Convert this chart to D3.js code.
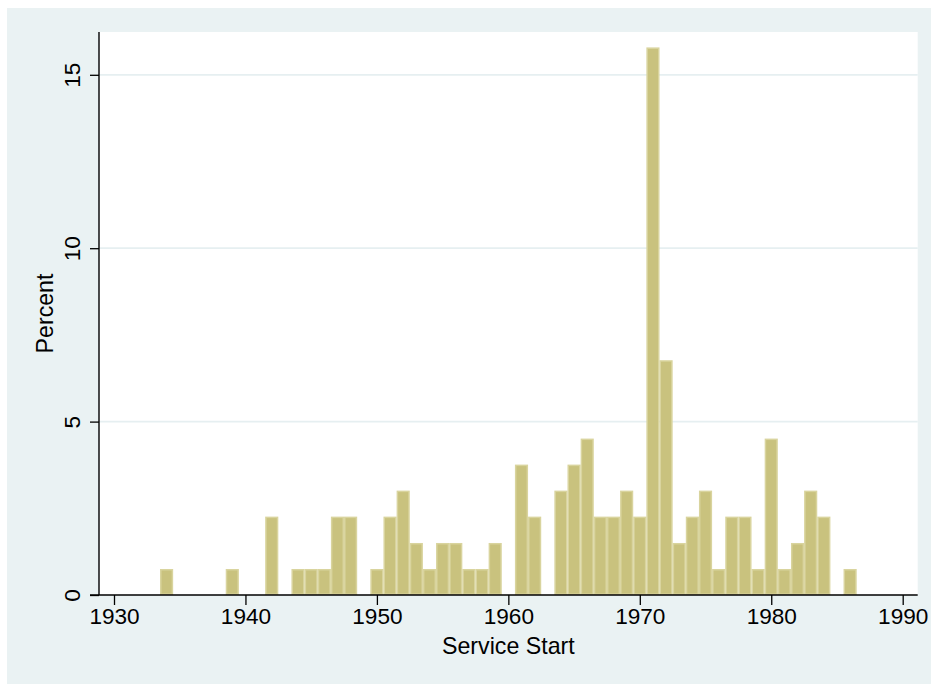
<!DOCTYPE html>
<html>
<head>
    <meta charset="utf-8">
    <script src="https://d3js.org/d3.v7.min.js"></script>
    <style>
        body { margin: 0; background: #fff; }
        text { font-family: "Liberation Sans", Arial, Helvetica, sans-serif; }
    </style>
</head>
<body>
    <svg id="hist" width="931" height="684"></svg>

    <script>
        // one bar per service start year (bin width 1), height in percent
        const years = [1934, 1939, 1942, 1944, 1945, 1946, 1947, 1948,
                       1950, 1951, 1952, 1953, 1954, 1955, 1956, 1957, 1958, 1959,
                       1961, 1962, 1964, 1965, 1966, 1967, 1968, 1969, 1970,
                       1971, 1972, 1973, 1974, 1975, 1976, 1977, 1978, 1979,
                       1980, 1981, 1982, 1983, 1984, 1986];
        const percents = [0.75, 0.75, 2.26, 0.75, 0.75, 0.75, 2.26, 2.26,
                          0.75, 2.26, 3.01, 1.50, 0.75, 1.50, 1.50, 0.75, 0.75, 1.50,
                          3.76, 2.26, 3.01, 3.76, 4.51, 2.26, 2.26, 3.01, 2.26,
                          15.79, 6.77, 1.50, 2.26, 3.01, 0.75, 2.26, 2.26, 0.75,
                          4.51, 0.75, 1.50, 3.01, 2.26, 0.75];
        const xTicks = [1930, 1940, 1950, 1960, 1970, 1980, 1990];
        const yTicks = [0, 5, 10, 15];

        const svg = d3.select('svg#hist');

        // outer background and plot region
        const plot = { left: 99, right: 917.7, top: 32, bottom: 595 };

        svg.append('rect')
           .attr('x', 7).attr('y', 8)
           .attr('width', 924).attr('height', 676)
           .attr('fill', '#eaf2f3');

        svg.append('rect')
           .attr('x', plot.left).attr('y', plot.top)
           .attr('width', plot.right - plot.left)
           .attr('height', plot.bottom - plot.top)
           .attr('fill', '#ffffff');

        const xScale = d3.scaleLinear()
                         .domain([1930, 1990])
                         .range([114, 902.7]);

        const yScale = d3.scaleLinear()
                         .domain([0, 15])
                         .range([plot.bottom, 74.8]);

        // gridlines
        svg.append('g')
           .selectAll('line')
           .data(yTicks.filter(t => t > 0))
           .enter().append('line')
           .attr('x1', plot.left).attr('x2', plot.right)
           .attr('y1', d => yScale(d)).attr('y2', d => yScale(d))
           .attr('stroke', '#e6eff1')
           .attr('stroke-width', 1.8);

        // bars
        const sw = 1.5;
        svg.append('g')
           .selectAll('rect')
           .data(years.map((y, i) => ({ year: y, pct: percents[i] })))
           .enter().append('rect')
           .attr('x', d => xScale(d.year - 0.5) + sw / 2)
           .attr('y', d => yScale(d.pct) + sw / 2)
           .attr('width', d => xScale(d.year + 0.5) - xScale(d.year - 0.5) - sw)
           .attr('height', d => yScale(0) - yScale(d.pct) - sw)
           .attr('fill', '#c9c27e')
           .attr('stroke', '#d9d49e')
           .attr('stroke-width', sw);

        // x axis
        const xAxis = svg.append('g')
           .attr('transform', `translate(0, ${plot.bottom})`)
           .call(d3.axisBottom(xScale).tickValues(xTicks).tickFormat(d3.format('d'))
                   .tickSize(10).tickPadding(3).tickSizeOuter(0));
        xAxis.select('.domain').remove();
        xAxis.selectAll('line').attr('stroke', '#000').attr('stroke-width', 1.3);
        xAxis.selectAll('text')
             .style('font-size', '22.6px')
             .attr('fill', '#000');

        // y axis
        const yAxis = svg.append('g')
           .attr('transform', `translate(${plot.left}, 0)`)
           .call(d3.axisLeft(yScale).tickValues(yTicks).tickSize(9).tickSizeOuter(0));
        yAxis.select('.domain').remove();
        yAxis.selectAll('line').attr('stroke', '#000').attr('stroke-width', 1.3);
        yAxis.selectAll('text')
             .attr('transform', 'rotate(-90)')
             .attr('x', 0)
             .attr('y', -19)
             .attr('dy', '0')
             .attr('text-anchor', 'middle')
             .style('font-size', '22.6px')
             .attr('fill', '#000');

        // axis lines
        svg.append('line')
           .attr('x1', plot.left).attr('x2', plot.left)
           .attr('y1', plot.top).attr('y2', plot.bottom)
           .attr('stroke', '#000').attr('stroke-width', 1.4);
        svg.append('line')
           .attr('x1', plot.left - 9).attr('x2', plot.right)
           .attr('y1', plot.bottom).attr('y2', plot.bottom)
           .attr('stroke', '#000').attr('stroke-width', 1.4);

        // axis titles
        svg.append('text')
           .attr('x', (plot.left + plot.right) / 2)
           .attr('y', 654)
           .attr('text-anchor', 'middle')
           .style('font-size', '23.2px')
           .text('Service Start');

        svg.append('text')
           .attr('transform', `translate(53, ${(plot.top + plot.bottom) / 2}) rotate(-90)`)
           .attr('text-anchor', 'middle')
           .style('font-size', '23.2px')
           .text('Percent');
    </script>
</body>
</html>
